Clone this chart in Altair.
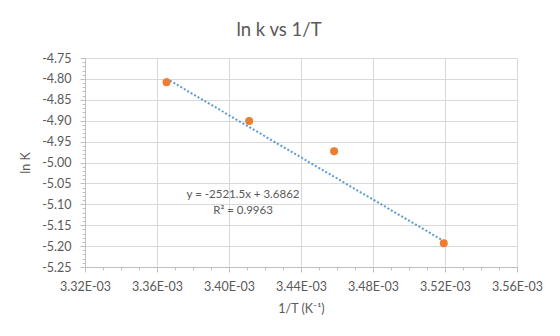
import altair as alt
import pandas as pd

# Arrhenius data: reciprocal temperature (1/K) and ln k
inv_T = [0.0033653, 0.0034112, 0.0034584, 0.0035193]
ln_k = [-4.808, -4.901, -4.973, -5.193]

# Linear trendline reported on the chart
slope = -2521.5
intercept = 3.6862
r_squared = 0.9963

x_ticks = [round(3.32e-3 + i * 1e-5, 6) for i in range(25)]
y_ticks = [round(-5.25 + i * 0.01, 2) for i in range(51)]

FONT = "Lato"
TEXT = "#595959"
GRID = "#d9d9d9"

df = pd.DataFrame({"inv_T": inv_T, "ln_k": ln_k})

x_major = "round(datum.value * 100000) % 4 == 0"
y_major = "round(datum.value * 100) % 5 == 0"

x_scale = alt.Scale(domain=[0.00332, 0.00356], nice=False, zero=False)
y_scale = alt.Scale(domain=[-5.25, -4.75], nice=False, zero=False)

x_axis = alt.Axis(
    title="1/T (K⁻¹)",
    values=x_ticks,
    tickCount=200,
    labelExpr=f"({x_major}) ? replace(format(datum.value, '.2e'), 'e-3', 'E-03') : ''",
    tickSize={"condition": {"test": x_major, "value": 5}, "value": 3},
    tickColor="#bfbfbf",
    gridColor=GRID,
    gridOpacity={"condition": {"test": x_major, "value": 1}, "value": 0},
    domainColor="#bfbfbf",
    labelPadding=8,
    labelFlush=False,
    labelOverlap=False,
    titlePadding=10,
)
y_axis = alt.Axis(
    title="ln K",
    values=y_ticks,
    tickCount=200,
    labelExpr=f"({y_major}) ? ((datum.value < 0 ? '-' : '') + format(abs(datum.value), '.2f')) : ''",
    tickSize={"condition": {"test": y_major, "value": 5}, "value": 3},
    tickColor="#bfbfbf",
    gridColor=GRID,
    gridOpacity={"condition": {"test": y_major, "value": 1}, "value": 0},
    domainColor="#bfbfbf",
    labelPadding=9,
    labelFlush=False,
    labelOverlap=False,
    titlePadding=9,
)

base = alt.Chart(df)

trend = base.transform_aggregate(
    x0="min(inv_T)", x1="max(inv_T)"
).transform_calculate(
    y0=f"{slope} * datum.x0 + {intercept}",
    y1=f"{slope} * datum.x1 + {intercept}",
).mark_rule(color="#5B9BD5", strokeWidth=2, strokeDash=[2, 2]).encode(
    x=alt.X("x0:Q", scale=x_scale, axis=x_axis),
    y=alt.Y("y0:Q", scale=y_scale, axis=y_axis),
    x2="x1:Q",
    y2="y1:Q",
)

points = base.mark_circle(size=64, opacity=1, color="#ED7D31").encode(
    x=alt.X("inv_T:Q", scale=x_scale, axis=x_axis),
    y=alt.Y("ln_k:Q", scale=y_scale, axis=y_axis),
)

eq_text = f"y = {slope}x + {intercept}"
r2_text = f"R² = {r_squared}"

labels = alt.Chart(pd.DataFrame({"t": [eq_text, r2_text], "row": [0, 1]})).mark_text(
    font=FONT, fontSize=11.5, color=TEXT, align="center", baseline="middle"
).encode(
    x=alt.datum(0.0034078),
    y=alt.Y("yy:Q", scale=y_scale, axis=y_axis),
    text="t:N",
).transform_calculate(yy="-5.0766 - datum.row * 0.0405")

chart = alt.layer(trend, points, labels).properties(
    width=432,
    height=209,
    padding={"left": 85, "top": 58, "right": 43, "bottom": 69},
    autosize="none",
    title=alt.TitleParams(
        "ln k vs 1/T", fontSize=18.5, font=FONT, fontWeight="normal",
        color=TEXT, anchor="middle", dx=-22, offset=-6, baseline="bottom",
    ),
).configure_view(stroke=None).configure_axis(
    labelFont=FONT, labelFontSize=12.5, labelColor=TEXT,
    titleFont=FONT, titleFontSize=12.5, titleColor=TEXT, titleFontWeight="normal",
)

chart.save("out.html", embed_options={"renderer": "svg", "actions": False})
